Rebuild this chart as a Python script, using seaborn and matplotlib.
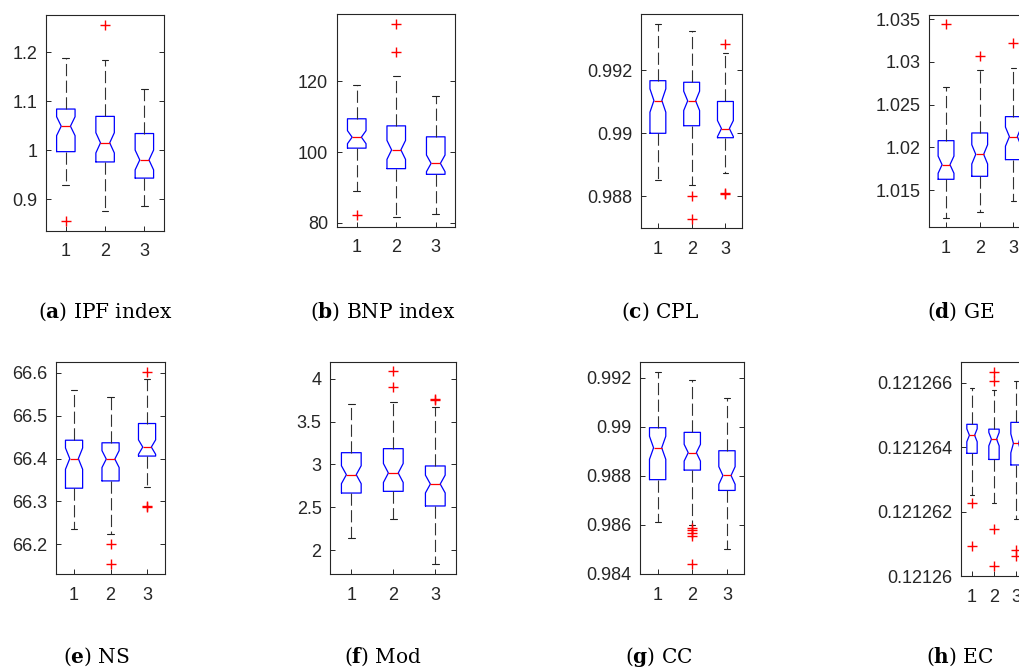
import numpy as np
import matplotlib
matplotlib.use("Agg")
import matplotlib.pyplot as plt
from matplotlib.ticker import FuncFormatter
import seaborn as sns

# -----------------------------
# Data
# -----------------------------
groups = [1, 2, 3]
n_samples = 50  # notch half height = 1.57 * IQR / sqrt(n)

# (a) IPF index
ipf_lo = [0.929, 0.875, 0.887]
ipf_q1 = [0.997, 0.976, 0.943]
ipf_med = [1.049, 1.015, 0.980]
ipf_q3 = [1.084, 1.069, 1.034]
ipf_hi = [1.189, 1.185, 1.125]
ipf_out = [[0.856], [1.256], []]
ipf_ticks = [0.9, 1.0, 1.1, 1.2]

# (b) BNP index
bnp_lo = [88.9, 81.5, 82.4]
bnp_q1 = [101.1, 95.3, 93.7]
bnp_med = [104.2, 100.6, 96.8]
bnp_q3 = [109.4, 107.4, 104.3]
bnp_hi = [119.0, 121.6, 115.9]
bnp_out = [[82.1], [136.2, 128.2], []]
bnp_ticks = [80, 100, 120]

# (c) CPL
cpl_lo = [0.98853, 0.98835, 0.98873]
cpl_q1 = [0.99000, 0.99024, 0.98986]
cpl_med = [0.99104, 0.99103, 0.99015]
cpl_q3 = [0.99167, 0.99162, 0.99101]
cpl_hi = [0.99347, 0.99324, 0.99255]
cpl_out = [[], [0.98800, 0.98728], [0.99285, 0.98809, 0.98807]]
cpl_ticks = [0.988, 0.990, 0.992]

# (d) GE
ge_lo = [1.01173, 1.01244, 1.01372]
ge_q1 = [1.01626, 1.01661, 1.01856]
ge_med = [1.01797, 1.01918, 1.02125]
ge_q3 = [1.02078, 1.02168, 1.02359]
ge_hi = [1.02706, 1.02901, 1.02932]
ge_out = [[1.03439], [1.03072], [1.03224]]
ge_ticks = [1.015, 1.02, 1.025, 1.03, 1.035]

# (e) NS
ns_lo = [66.235, 66.223, 66.333]
ns_q1 = [66.331, 66.348, 66.406]
ns_med = [66.400, 66.399, 66.427]
ns_q3 = [66.443, 66.437, 66.482]
ns_hi = [66.560, 66.545, 66.586]
ns_out = [[], [66.200, 66.153], [66.603, 66.289, 66.287]]
ns_ticks = [66.2, 66.3, 66.4, 66.5, 66.6]

# (f) Mod
mod_lo = [2.144, 2.358, 1.833]
mod_q1 = [2.665, 2.685, 2.514]
mod_med = [2.879, 2.899, 2.770]
mod_q3 = [3.136, 3.183, 2.981]
mod_hi = [3.708, 3.732, 3.665]
mod_out = [[], [4.086, 3.907], [3.752, 3.758]]
mod_ticks = [2, 2.5, 3, 3.5, 4]

# (g) CC
cc_lo = [0.98610, 0.98597, 0.98501]
cc_q1 = [0.98784, 0.98823, 0.98740]
cc_med = [0.98914, 0.98894, 0.98801]
cc_q3 = [0.98996, 0.98977, 0.98902]
cc_hi = [0.99225, 0.99190, 0.99116]
cc_out = [[], [0.98588, 0.98578, 0.98568, 0.98555, 0.98438], []]
cc_ticks = [0.984, 0.986, 0.988, 0.990, 0.992]

# (h) EC
ec_lo = [0.12126253, 0.12126228, 0.12126178]
ec_q1 = [0.12126381, 0.12126362, 0.12126345]
ec_med = [0.12126437, 0.12126425, 0.12126412]
ec_q3 = [0.12126471, 0.12126456, 0.12126477]
ec_hi = [0.12126582, 0.12126576, 0.12126606]
ec_out = [[0.12126227, 0.12126095],
          [0.12126634, 0.12126605, 0.12126146, 0.12126033],
          [0.12126083, 0.12126064]]
ec_ticks = [0.12126, 0.121262, 0.121264, 0.121266]

letters = ["a", "b", "c", "d", "e", "f", "g", "h"]
names = ["IPF index", "BNP index", "CPL", "GE", "NS", "Mod", "CC", "EC"]

# -----------------------------
# Layout (pixels on a 1020x670 canvas)
# -----------------------------
W, H = 1020, 670
# left, top, right, bottom of each axes
rects = [
    (46.2, 15.0, 164.0, 231.0),
    (337.0, 14.3, 455.5, 227.0),
    (641.0, 14.0, 742.3, 228.3),
    (929.2, 14.7, 1030.2, 227.3),
    (55.8, 362.3, 165.3, 574.0),
    (330.3, 361.7, 456.3, 574.0),
    (640.3, 361.7, 744.3, 574.0),
    (961.0, 361.7, 1027.0, 576.3),
]
ylims = [
    (0.835, 1.276),
    (78.8, 138.95),
    (0.986984, 0.993787),
    (1.010643, 1.035517),
    (66.1307, 66.6249),
    (1.720, 4.198),
    (0.98399, 0.992653),
    (0.12126, 0.12126665),
]
caption_xy = [(105, 312), (383, 312), (660, 312), (961, 312),
              (96, 657), (383, 657), (659, 657), (960, 657)]

panels = [
    (ipf_lo, ipf_q1, ipf_med, ipf_q3, ipf_hi, ipf_out, ipf_ticks),
    (bnp_lo, bnp_q1, bnp_med, bnp_q3, bnp_hi, bnp_out, bnp_ticks),
    (cpl_lo, cpl_q1, cpl_med, cpl_q3, cpl_hi, cpl_out, cpl_ticks),
    (ge_lo, ge_q1, ge_med, ge_q3, ge_hi, ge_out, ge_ticks),
    (ns_lo, ns_q1, ns_med, ns_q3, ns_hi, ns_out, ns_ticks),
    (mod_lo, mod_q1, mod_med, mod_q3, mod_hi, mod_out, mod_ticks),
    (cc_lo, cc_q1, cc_med, cc_q3, cc_hi, cc_out, cc_ticks),
    (ec_lo, ec_q1, ec_med, ec_q3, ec_hi, ec_out, ec_ticks),
]

# -----------------------------
# Style
# -----------------------------
sns.set_theme(style="white")
plt.rcParams["font.family"] = ["Liberation Sans", "DejaVu Sans"]
plt.rcParams["mathtext.fontset"] = "dejavuserif"
dark = "#262626"


def make_stats(lo, q1, med, q3, hi):
    stats = []
    for i in range(len(groups)):
        half = 1.57 * (q3[i] - q1[i]) / np.sqrt(n_samples)
        stats.append({
            "med": med[i], "q1": q1[i], "q3": q3[i],
            "whislo": lo[i], "whishi": hi[i],
            "cilo": max(med[i] - half, q1[i]),
            "cihi": min(med[i] + half, q3[i]),
            "fliers": [],
        })
    return stats


fig = plt.figure(figsize=(W / 100, H / 100), dpi=100)

for k, (lo, q1, med, q3, hi, out, ticks) in enumerate(panels):
    l, t, r, b = rects[k]
    ax = fig.add_axes([l / W, 1 - b / H, (r - l) / W, (b - t) / H])

    ax.bxp(
        make_stats(lo, q1, med, q3, hi),
        positions=groups,
        widths=0.47,
        capwidths=0.17,
        shownotches=True,
        showfliers=False,
        boxprops=dict(color="blue", linewidth=0.9),
        medianprops=dict(color="red", linewidth=0.9),
        whiskerprops=dict(color="#333333", linewidth=0.8, linestyle=(0, (11, 4))),
        capprops=dict(color="#222222", linewidth=0.8),
    )

    xs = [groups[i] for i in range(len(groups)) for _ in out[i]]
    ys = [v for i in range(len(groups)) for v in out[i]]
    if xs:
        sns.scatterplot(x=xs, y=ys, marker="+", color="red", s=55,
                        linewidth=1.0, ax=ax, legend=False, zorder=5)

    ax.set_xlim(0.5, 3.5)
    ax.set_ylim(*ylims[k])
    ax.set_xticks(groups)
    ax.set_xticklabels([str(g) for g in groups])
    ax.set_yticks(ticks)
    ax.yaxis.set_major_formatter(FuncFormatter(lambda v, p: f"{v:g}"))
    ax.set_xlabel("")
    ax.set_ylabel("")

    ax.tick_params(axis="y", direction="in", left=True, right=True,
                   length=3.5, width=0.7, color=dark, labelcolor=dark,
                   labelsize=13, pad=6.3)
    ax.tick_params(axis="x", direction="in", bottom=True, top=False,
                   length=3.5, width=0.7, color=dark, labelcolor=dark,
                   labelsize=13, pad=9)
    for sp in ax.spines.values():
        sp.set_color(dark)
        sp.set_linewidth(0.8)

    cx, cy = caption_xy[k]
    fig.text(cx / W, 1 - cy / H, r"($\mathbf{%s}$) %s" % (letters[k], names[k]),
             ha="center", va="center", fontsize=14.5, family="DejaVu Serif",
             color="black")

fig.savefig("out.png", dpi=100)
